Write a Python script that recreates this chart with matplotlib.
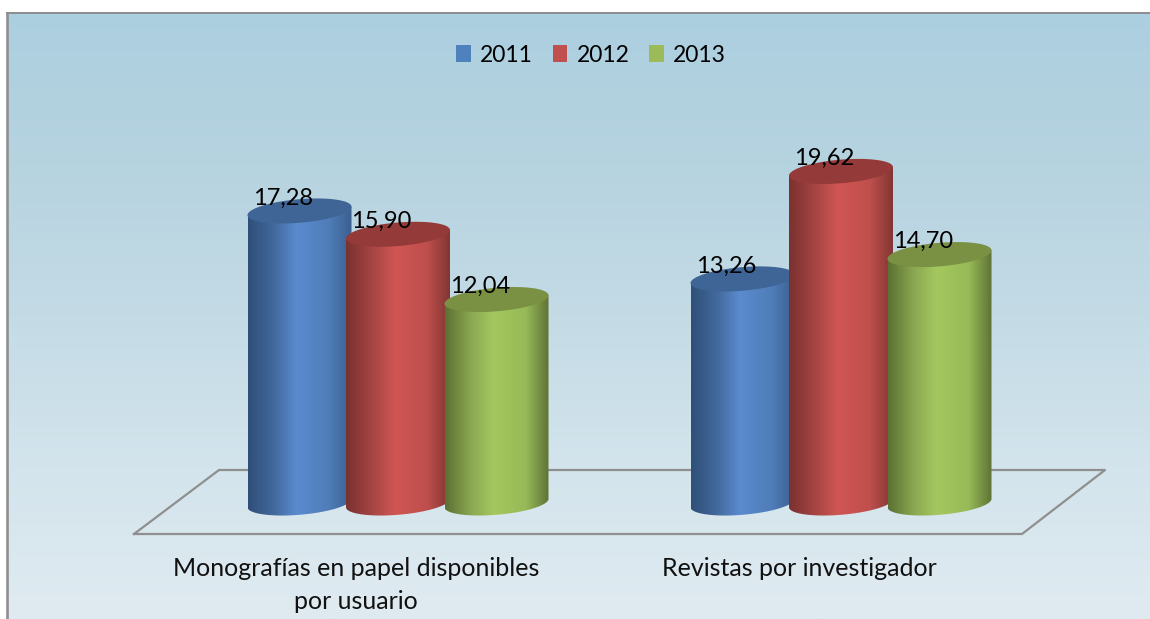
import numpy as np
import matplotlib
matplotlib.use("Agg")
import matplotlib.pyplot as plt
from matplotlib.patches import Polygon, PathPatch, Patch
from matplotlib.path import Path
from matplotlib.colors import to_rgb

plt.rcParams['font.family'] = ['Lato', 'DejaVu Sans']

categories = ["Monografías en papel disponibles\npor usuario", "Revistas por investigador"]
years = ["2011", "2012", "2013"]
v2011 = [17.28, 13.26]
v2012 = [15.90, 19.62]
v2013 = [12.04, 14.70]
series = [v2011, v2012, v2013]
labels_2011 = ["17,28", "13,26"]
labels_2012 = ["15,90", "19,62"]
labels_2013 = ["12,04", "14,70"]
series_labels = [labels_2011, labels_2012, labels_2013]

legend_colors = ["#4f81bd", "#c0504d", "#9bbb59"]
side_stops = [
    ["#2f4f78", "#42699c", "#5b8bcf", "#4f7db8", "#3a5f8f"],
    ["#7a3230", "#a54543", "#d05654", "#bf4f4c", "#823634"],
    ["#5c7033", "#8aa851", "#a4c85f", "#97b957", "#5f7336"],
]
top_colors = ["#3f6596", "#943a39", "#7a9144"]

W, H = 1150, 619
PX_X0, PX_PER_CAT = 398.0, 443.0
PX_Y0, PX_PER_VAL = 503.0, 16.9

def xd(px):
    return (px - PX_X0) / PX_PER_CAT

def yd(py):
    return (PX_Y0 - py) / PX_PER_VAL

fig = plt.figure(figsize=(W / 100, H / 100), dpi=100, facecolor="white")
ax = fig.add_axes([0, 0, 1, 1])
ax.set_xlim(xd(0), xd(W))
ax.set_ylim(yd(H), yd(0))
ax.axis("off")

# background panel
bg = np.array([to_rgb(c) for c in ["#accfdf", "#b6d3e0", "#c4dbe6", "#d3e4ec", "#e0ebf1"]])
bg_img = np.dstack([np.interp(np.linspace(0, 4, 256), np.arange(5), bg[:, i])[:, None] for i in range(3)])
ax.imshow(bg_img, extent=(xd(7), xd(W), yd(H), yd(13)), origin="upper", aspect="auto", zorder=0)
ax.plot([xd(7), xd(7)], [yd(H), yd(13)], color="#8f8f8f", lw=1.9, zorder=1, solid_capstyle="butt")
ax.plot([xd(6), xd(W)], [yd(13), yd(13)], color="#8c8c8c", lw=1.4, zorder=1, solid_capstyle="butt")

# floor
ax.plot([xd(134), xd(1022), xd(1105), xd(219), xd(134)],
        [yd(534), yd(534), yd(470), yd(470), yd(534)],
        color="#8f8f8f", lw=1.6, zorder=2)

# cylinders: sheared ellipses give the slight tilt of the 3D view
half_w = 52.0 / PX_PER_CAT
half_h = 11.8 / PX_PER_VAL
shear = 4.2 / PX_PER_VAL
step = 98.5 / PX_PER_CAT
pos = [0, 0.25, 0.47, 0.78, 1]
z = 3
for g in range(len(categories)):
    for s, vals in enumerate(series):
        cx = g + (s - 1) * step
        v = vals[g]
        t = np.linspace(np.pi, 2 * np.pi, 100)
        ex = cx + half_w * np.cos(t)
        ey = half_h * np.sin(t) + shear * np.cos(t)
        verts = [(cx - half_w, v - shear)] + list(zip(ex, ey)) + [(cx + half_w, v + shear), (cx - half_w, v - shear)]
        codes = [Path.MOVETO] + [Path.LINETO] * (len(verts) - 2) + [Path.CLOSEPOLY]
        patch = PathPatch(Path(verts, codes), facecolor="none", edgecolor="none", zorder=z)
        ax.add_patch(patch)
        stops = np.array([to_rgb(c) for c in side_stops[s]])
        grad = np.dstack([np.interp(np.linspace(0, 1, 200), pos, stops[:, i])[None, :] for i in range(3)])
        im = ax.imshow(grad, extent=(cx - half_w, cx + half_w, -half_h - shear, v + shear),
                       aspect="auto", zorder=z)
        im.set_clip_path(patch)
        tt = np.linspace(0, 2 * np.pi, 160)
        top = np.column_stack([cx + half_w * np.cos(tt),
                               v + half_h * np.sin(tt) + shear * np.cos(tt)])
        ax.add_patch(Polygon(top, closed=True, facecolor=top_colors[s], edgecolor="none", zorder=z + 0.1))
        z += 1

ax.set_xlim(xd(0), xd(W))
ax.set_ylim(yd(H), yd(0))

# value labels
for g in range(len(categories)):
    for s, vals in enumerate(series):
        cx = g + (s - 1) * step
        ax.annotate(series_labels[s][g], (cx, vals[g]), xytext=(-16.5 * 0.72, 13 * 0.72),
                    textcoords="offset points", ha="center", va="center",
                    fontsize=17, color="black", zorder=40)

# category labels
ax.text(xd(356), yd(585), categories[0], ha="center", va="center", fontsize=18,
        color="#111111", linespacing=1.55, zorder=40)
ax.text(xd(799), yd(569), categories[1], ha="center", va="center", fontsize=18,
        color="#111111", zorder=40)

# legend
handles = [Patch(facecolor=c, edgecolor="none", label=y) for c, y in zip(legend_colors, years)]
leg = ax.legend(handles=handles, ncol=3, loc="center", bbox_to_anchor=(591 / W, 1 - 55 / H),
                frameon=False, fontsize=16.5, handlelength=0.65, handleheight=0.75,
                handletextpad=0.4, columnspacing=0.85)
leg.set_zorder(40)

fig.savefig("out.png", dpi=100, facecolor="white")
